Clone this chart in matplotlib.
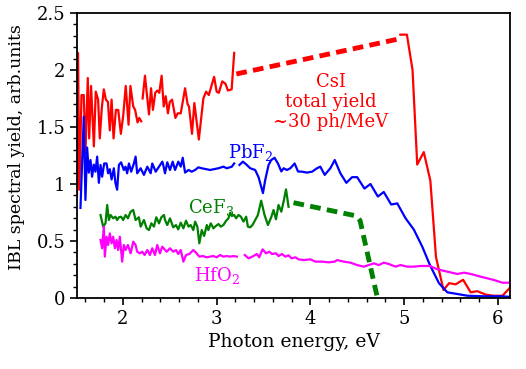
import numpy as np
import matplotlib
matplotlib.use("Agg")
import matplotlib.pyplot as plt
from matplotlib.ticker import MultipleLocator

plt.rcParams['font.family'] = ['DejaVu Serif']
plt.rcParams['mathtext.fontset'] = 'dejavuserif'

nan = np.nan

# CsI measured spectrum (solid), gap marked with nan
csi_e = [1.51, 1.521, 1.535, 1.558, 1.582, 1.60, 1.625, 1.64, 1.66, 1.69, 1.71, 1.735,
         1.753, 1.775, 1.796, 1.818, 1.84, 1.86, 1.879, 1.90, 1.925, 1.95, 1.978, 2.003,
         2.03, 2.06, 2.08, 2.11, 2.13, 2.156, 2.174, 2.195, 2.20,
         2.21, 2.235, 2.278, 2.30, 2.32, 2.345, 2.366, 2.388, 2.413, 2.435, 2.456, 2.48,
         2.50, 2.524, 2.56, 2.585, 2.617, 2.663, 2.69, 2.705, 2.737, 2.762, 2.81, 2.858,
         2.887, 2.916, 2.973, 3.00, 3.023, 3.06, 3.094, 3.12, 3.16, 3.187]
csi_y = [0.9, 2.15, 0.95, 1.78, 1.78, 1.27, 1.93, 1.40, 1.86, 1.33, 1.81, 1.74,
         1.40, 1.67, 1.83, 1.74, 1.72, 1.47, 1.74, 1.40, 1.65, 1.65, 1.44, 1.60,
         1.86, 1.52, 1.86, 1.68, 1.65, 1.54, 1.58, 1.55, nan,
         1.75, 1.95, 1.61, 1.84, 1.65, 1.80, 1.82, 1.80, 1.95, 1.68, 1.77, 1.62,
         1.72, 1.74, 1.58, 1.62, 1.62, 1.84, 1.70, 1.68, 1.44, 1.71, 1.39, 1.75,
         1.81, 1.78, 1.94, 1.81, 1.80, 1.90, 1.88, 1.82, 1.83, 2.15]
csi_tail_e = [4.96, 5.03, 5.09, 5.14, 5.21, 5.28, 5.34, 5.42, 5.48, 5.55, 5.63, 5.71,
              5.78, 5.87, 5.95, 6.05, 6.14]
csi_tail_y = [2.31, 2.31, 2.0, 1.17, 1.28, 1.03, 0.36, 0.07, 0.13, 0.12, 0.16, 0.05,
              0.06, 0.03, 0.02, 0.02, 0.10]
csi_dash_e = [3.21, 4.93]
csi_dash_y = [1.965, 2.27]

# PbF2
pbf2_e = [1.547, 1.564, 1.582, 1.60, 1.618, 1.636, 1.654, 1.671, 1.689, 1.707, 1.725,
          1.743, 1.761, 1.778, 1.80, 1.825, 1.842, 1.86, 1.879, 1.903, 1.92, 1.938,
          1.957, 1.98, 2.01, 2.028, 2.045, 2.064, 2.088, 2.117, 2.135, 2.152, 2.189,
          2.224, 2.26, 2.296, 2.313, 2.35, 2.385, 2.42, 2.43, 2.449, 2.473, 2.502,
          2.531, 2.556, 2.591, 2.617, 2.638, 2.663, 2.70, 2.734, 2.77, 2.805, 2.841,
          2.895, 2.93, 2.965, 3.019, 3.072, 3.109, 3.162, 3.187, 3.21,
          3.243, 3.28, 3.322, 3.358, 3.411, 3.447, 3.494, 3.518, 3.554, 3.582, 3.618,
          3.654, 3.69, 3.714, 3.75, 3.786, 3.832, 3.868, 3.91, 3.964, 4.018, 4.071,
          4.106, 4.153, 4.213, 4.26, 4.32, 4.384, 4.445, 4.499, 4.577, 4.641, 4.72,
          4.783, 4.862, 4.927, 5.015, 5.104, 5.194, 5.275, 5.372, 5.461, 5.568, 5.675,
          5.853, 6.032, 6.14]
pbf2_y = [0.79, 1.18, 1.59, 0.86, 1.32, 1.10, 1.21, 1.064, 1.17, 1.108, 1.24,
          1.01, 1.167, 1.064, 1.18, 1.18, 1.094, 1.13, 1.04, 1.138, 1.01, 0.95,
          1.167, 1.19, 1.123, 1.152, 1.094, 1.18, 1.108, 1.18, 1.24, 1.094, 1.138,
          1.08, 1.152, 1.094, 1.18, 1.108, 1.152, 1.196, 1.167, 1.094, 1.19, 1.123,
          1.196, 1.123, 1.196, 1.152, 1.23, 1.10, 1.123, 1.108, 1.123, 1.146, 1.138,
          1.129, 1.123, 1.129, 1.138, 1.152, 1.138, 1.152, 1.18, nan,
          1.167, 1.196, 1.167, 1.138, 1.123, 1.06, 0.92, 1.035, 1.167, 1.21, 1.23,
          1.18, 1.11, 1.138, 1.123, 1.138, 1.18, 1.11, 1.108, 1.10, 1.108, 1.138,
          1.152, 1.08, 1.138, 1.21, 1.094, 1.01, 1.06, 1.06, 0.96, 1.00, 0.89,
          0.93, 0.82, 0.83, 0.70, 0.60, 0.45, 0.29, 0.13, 0.05, 0.035, 0.02,
          0.015, 0.015, 0.01]

# CeF3
cef3_e = [1.761, 1.789, 1.814, 1.832, 1.85, 1.868, 1.896, 1.92, 1.938, 1.957, 1.98,
          2.003, 2.028, 2.053, 2.082, 2.11, 2.135, 2.17, 2.189, 2.224, 2.253, 2.278,
          2.303, 2.331, 2.356, 2.385, 2.41, 2.438, 2.449, 2.473, 2.502, 2.537, 2.566,
          2.59, 2.617, 2.645, 2.673, 2.70, 2.723, 2.751, 2.77, 2.794, 2.815, 2.841,
          2.866, 2.895, 2.912, 2.937, 2.966, 2.983, 3.019, 3.044, 3.072, 3.101, 3.126,
          3.144, 3.162, 3.187, 3.208, 3.233, 3.259, 3.286, 3.315, 3.333, 3.358, 3.382,
          3.411, 3.44, 3.475, 3.511, 3.547, 3.582, 3.607, 3.633, 3.66, 3.69, 3.714,
          3.74, 3.767]
cef3_y = [0.728, 0.626, 0.655, 0.816, 0.684, 0.728, 0.699, 0.713, 0.684, 0.708, 0.713,
          0.684, 0.728, 0.699, 0.757, 0.772, 0.684, 0.708, 0.626, 0.684, 0.611, 0.596,
          0.655, 0.626, 0.708, 0.655, 0.708, 0.728, 0.684, 0.640, 0.699, 0.620, 0.640,
          0.602, 0.661, 0.611, 0.678, 0.626, 0.640, 0.596, 0.670, 0.626, 0.48, 0.596,
          0.544, 0.640, 0.596, 0.655, 0.611, 0.626, 0.649, 0.626, 0.640, 0.678, 0.699,
          0.749, 0.719, 0.728, 0.699, 0.728, 0.713, 0.670, 0.713, 0.626, 0.620, 0.640,
          0.684, 0.728, 0.854, 0.728, 0.640, 0.708, 0.772, 0.69, 0.816, 0.757, 0.845,
          0.953, 0.80]
cef3_dash_e = [3.82, 4.49, 4.53, 4.71]
cef3_dash_y = [0.836, 0.72, 0.68, 0.02]

# HfO2
hfo2_e = [1.761, 1.778, 1.796, 1.807, 1.825, 1.842, 1.86, 1.879, 1.896, 1.914, 1.932,
          1.949, 1.967, 1.992, 2.01, 2.028, 2.053, 2.082, 2.11, 2.135, 2.152, 2.181,
          2.206, 2.231, 2.26, 2.288, 2.313, 2.342, 2.366, 2.395, 2.42, 2.467, 2.502,
          2.537, 2.566, 2.59, 2.617, 2.645, 2.673, 2.709, 2.751, 2.78, 2.815, 2.852,
          2.895, 2.93, 2.965, 3.0, 3.037, 3.072, 3.109, 3.144, 3.18, 3.215, 3.26,
          3.30, 3.34, 3.393, 3.429, 3.454, 3.49, 3.526, 3.561, 3.59, 3.633, 3.66,
          3.697, 3.732, 3.767, 3.80, 3.839, 3.874, 3.928, 4.0, 4.053, 4.125, 4.195,
          4.26, 4.285, 4.356, 4.427, 4.499, 4.57, 4.623, 4.677, 4.73, 4.783, 4.837,
          4.908, 4.962, 5.033, 5.104, 5.176, 5.275, 5.355, 5.461, 5.568, 5.64, 5.71,
          5.818, 5.89, 5.96, 6.05, 6.14]
hfo2_y = [0.509, 0.436, 0.626, 0.363, 0.538, 0.465, 0.567, 0.48, 0.538, 0.436, 0.509,
          0.421, 0.538, 0.319, 0.465, 0.421, 0.465, 0.392, 0.494, 0.465, 0.406, 0.392,
          0.406, 0.377, 0.421, 0.377, 0.436, 0.377, 0.465, 0.392, 0.45, 0.406, 0.436,
          0.406, 0.421, 0.386, 0.421, 0.319, 0.377, 0.386, 0.421, 0.398, 0.363, 0.368,
          0.357, 0.363, 0.368, 0.357, 0.377, 0.363, 0.368, 0.363, 0.368, 0.363, nan,
          0.377, 0.348, 0.368, 0.386, 0.357, 0.427, 0.392, 0.406, 0.386, 0.392, 0.368,
          0.386, 0.363, 0.374, 0.348, 0.357, 0.339, 0.333, 0.339, 0.319, 0.319, 0.313,
          0.319, 0.333, 0.319, 0.31, 0.289, 0.275, 0.289, 0.304, 0.289, 0.31, 0.298,
          0.275, 0.289, 0.275, 0.275, 0.281, 0.281, 0.252, 0.231, 0.211, 0.222, 0.211,
          0.187, 0.172, 0.158, 0.134, 0.134]

red = '#ff0000'
blue = '#0000ff'
green = '#008000'
magenta = '#ff00ff'

fig = plt.figure(figsize=(5.26, 3.69), dpi=100)
ax = fig.add_axes([0.1464, 0.1924, 0.8232, 0.7724])

ax.plot(csi_e, csi_y, color=red, lw=1.6)
ax.plot(csi_tail_e, csi_tail_y, color=red, lw=1.6)
ax.plot(csi_dash_e, csi_dash_y, color=red, lw=3.5, ls=(0, (2.2, 1.3)))
ax.plot(pbf2_e, pbf2_y, color=blue, lw=1.6)
ax.plot(cef3_e, cef3_y, color=green, lw=1.6)
ax.plot(cef3_dash_e, cef3_dash_y, color=green, lw=3.5, ls=(0, (2.2, 1.3)))
ax.plot(hfo2_e, hfo2_y, color=magenta, lw=1.6)

ax.text(4.22, 1.72, 'CsI\ntotal yield\n~30 ph/MeV', color=red, fontsize=13,
        ha='center', va='center', linespacing=1.15)
ax.text(3.36, 1.28, 'PbF$_2$', color=blue, fontsize=13, ha='center', va='center')
ax.text(2.94, 0.79, 'CeF$_3$', color=green, fontsize=13, ha='center', va='center')
ax.text(3.0, 0.2, 'HfO$_2$', color=magenta, fontsize=13, ha='center', va='center')

ax.set_xlim(1.51, 6.13)
ax.set_ylim(0, 2.5)
ax.xaxis.set_major_locator(MultipleLocator(1))
ax.xaxis.set_minor_locator(MultipleLocator(0.2))
ax.yaxis.set_minor_locator(MultipleLocator(0.1))
ax.set_yticks([0, 0.5, 1, 1.5, 2, 2.5])
ax.set_yticklabels(['0', '0.5', '1', '1.5', '2', '2.5'])
ax.tick_params(which='major', length=5, width=1.2, labelsize=13)
ax.tick_params(which='minor', length=3, width=1.0)
for s in ax.spines.values():
    s.set_linewidth(1.3)

ax.set_xlabel('Photon energy, eV', fontsize=13.5)
ax.set_ylabel('IBL spectral yield, arb.units', fontsize=12.5)
ax.yaxis.set_label_coords(-0.12, 0.53)

fig.savefig('out.png', dpi=100)
